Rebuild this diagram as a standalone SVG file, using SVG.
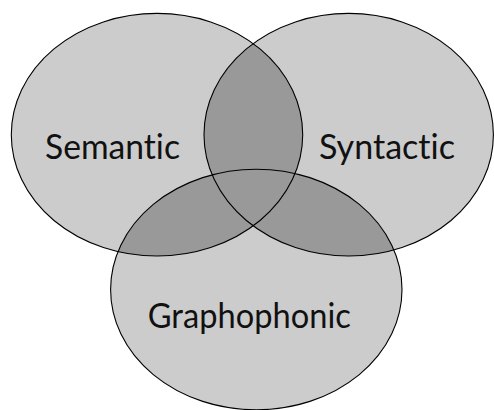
<svg xmlns="http://www.w3.org/2000/svg" width="494" height="410" viewBox="0 0 494 410">
  <style>
    .set { fill: #cccccc; }
    .overlap { fill: #999999; }
    .outline { fill: none; stroke: #000000; stroke-width: 1.1; }
    .label { font-family: Lato, "Open Sans", sans-serif; font-size: 35px; fill: #111111; text-anchor: middle; font-variant-ligatures: none; }
  </style>
  <defs>
    <ellipse id="e-sem" cx="157" cy="134.7" rx="145.7" ry="121.3"/>
    <ellipse id="e-syn" cx="348.7" cy="134.7" rx="144.7" ry="121.3"/>
    <ellipse id="e-gra" cx="256.3" cy="289.5" rx="145.7" ry="120.3"/>
    <clipPath id="clip-sem"><use href="#e-sem"/></clipPath>
    <clipPath id="clip-syn"><use href="#e-syn"/></clipPath>
  </defs>

  <!-- base fills of the three sets -->
  <g id="fills">
    <use href="#e-sem" class="set"/>
    <use href="#e-syn" class="set"/>
    <use href="#e-gra" class="set"/>
  </g>

  <!-- shared regions: any overlap gets the same darker tone -->
  <g id="overlaps">
    <use href="#e-syn" class="overlap" clip-path="url(#clip-sem)"/>
    <use href="#e-gra" class="overlap" clip-path="url(#clip-sem)"/>
    <use href="#e-gra" class="overlap" clip-path="url(#clip-syn)"/>
  </g>

  <g id="semantic">
    <use href="#e-sem" class="outline"/>
    <text class="label" x="112.5" y="159.3" textLength="135" lengthAdjust="spacingAndGlyphs">Semantic</text>
  </g>
  <g id="syntactic">
    <use href="#e-syn" class="outline"/>
    <text class="label" x="387" y="159.3" textLength="136" lengthAdjust="spacingAndGlyphs">Syntactic</text>
  </g>
  <g id="graphophonic">
    <use href="#e-gra" class="outline"/>
    <text class="label" x="249.3" y="328.3" textLength="203" lengthAdjust="spacingAndGlyphs">Graphophonic</text>
  </g>
</svg>
